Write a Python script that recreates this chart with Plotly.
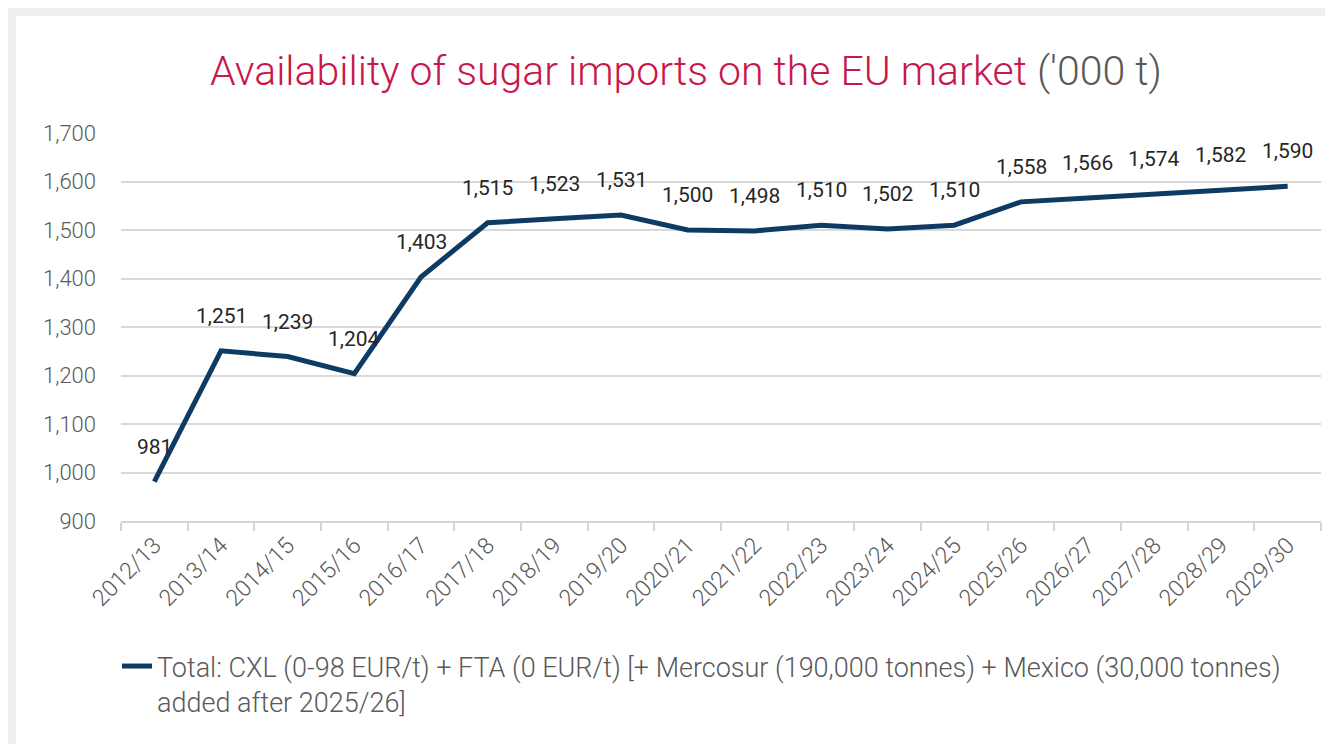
import plotly.graph_objects as go

seasons = ["2012/13", "2013/14", "2014/15", "2015/16", "2016/17", "2017/18",
           "2018/19", "2019/20", "2020/21", "2021/22", "2022/23", "2023/24",
           "2024/25", "2025/26", "2026/27", "2027/28", "2028/29", "2029/30"]
totals = [981, 1251, 1239, 1204, 1403, 1515, 1523, 1531, 1500, 1498,
          1510, 1502, 1510, 1558, 1566, 1574, 1582, 1590]
series_name = ("Total: CXL (0-98 EUR/t) + FTA (0 EUR/t) [+ Mercosur (190,000 tonnes) + "
               "Mexico (30,000 tonnes)<br>added after 2025/26]")
title_main = "Availability of sugar imports on the EU market"
title_unit = "('000 t)"
y_ticks = [900, 1000, 1100, 1200, 1300, 1400, 1500, 1600, 1700]

FONT = "Roboto"
GRAY = "#595959"
NAVY = "#0e3b63"
W = 300

fig = go.Figure()
fig.add_trace(go.Scatter(
    x=seasons, y=totals, mode="lines", name=series_name,
    line=dict(color=NAVY, width=5),
    hoverinfo="x+y",
))

for s, v in zip(seasons, totals):
    fig.add_annotation(x=s, y=v, text=f"{v:,}", showarrow=False,
                       yshift=35, font=dict(family=FONT, size=21, color="#262626", weight=400))

# white card on light gray frame
fig.add_shape(type="rect", xref="paper", yref="paper",
              x0=(8 - 113) / 1200, x1=(1340 - 113) / 1200,
              y0=(513 - 750) / 388, y1=(513 - 8) / 388,
              fillcolor="white", line=dict(width=0), layer="below")

fig.update_layout(
    width=1333, height=744,
    paper_bgcolor="#efefef", plot_bgcolor="rgba(0,0,0,0)",
    margin=dict(l=113, r=20, t=125, b=231),
    font=dict(family=FONT, color=GRAY, size=20, weight=W),
    title=dict(
        text=f"<span style='color:#c8174b'>{title_main}</span> "
             f"<span style='color:{GRAY}'>{title_unit}</span>",
        x=(678 - 113) / 1200, xref="paper", xanchor="center",
        y=1 - 63 / 744, yref="container", yanchor="middle",
        font=dict(family=FONT, size=41, weight=W),
    ),
    showlegend=True,
    legend=dict(
        orientation="h", x=(109 - 113) / 1200, xanchor="left",
        y=(513 - 634) / 388, yanchor="top", valign="top",
        font=dict(family=FONT, size=27, color=GRAY, weight=W),
        bgcolor="rgba(0,0,0,0)",
    ),
    xaxis=dict(
        type="category", range=[-0.5, len(seasons) - 0.5],
        showgrid=False, showline=True, linecolor="#d4d4d4", linewidth=1.5,
        ticks="outside", tickson="boundaries", ticklen=8, tickcolor="#d4d4d4",
        tickwidth=1.5, tickangle=-45,
        tickfont=dict(family=FONT, size=23, color=GRAY, weight=W),
    ),
    yaxis=dict(
        range=[900, 1700], tickvals=y_ticks, tickformat=",d",
        showgrid=True, gridcolor="#d9d9d9", gridwidth=1.5,
        zeroline=False, showline=False, ticks="",
        tickfont=dict(family=FONT, size=22, color=GRAY, weight=W),
        ticklabelstandoff=24,
    ),
)

fig.write_html("out.html")
